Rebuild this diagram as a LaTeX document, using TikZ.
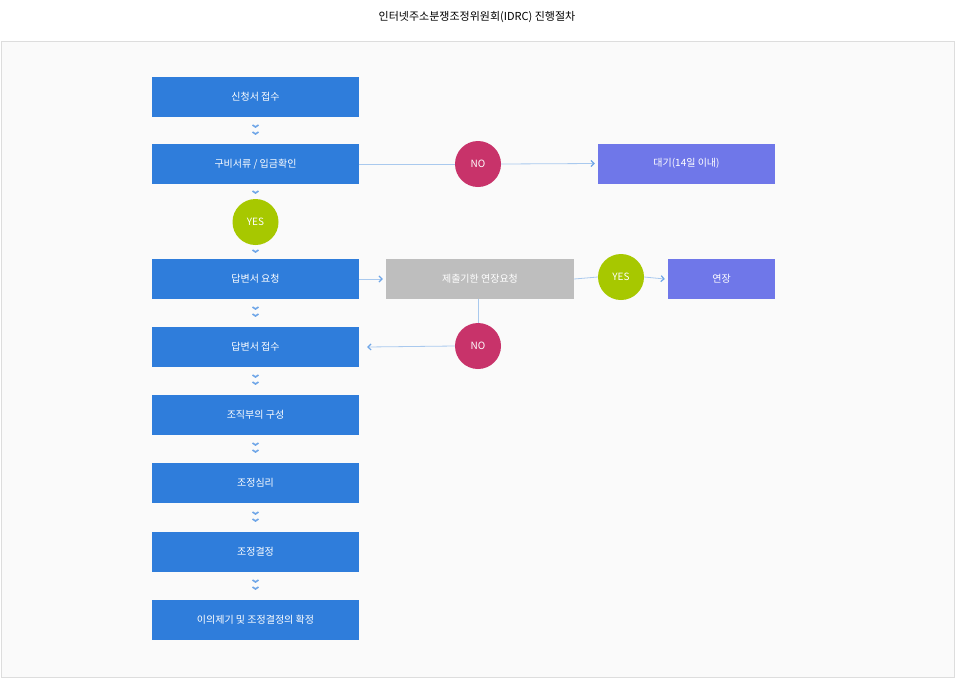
\documentclass[tikz,border=0pt]{standalone}
\usepackage{fontspec}
\setmainfont{Noto Sans CJK KR}
\usetikzlibrary{arrows.meta,positioning}
\definecolor{stepblue}{HTML}{2F7DDB}
\definecolor{waitpurple}{HTML}{6F77E9}
\definecolor{grayfill}{HTML}{BEBEBE}
\definecolor{nored}{HTML}{C8336A}
\definecolor{yesgreen}{HTML}{A7C800}
\definecolor{linkblue}{HTML}{A9C9EE}
\definecolor{chevblue}{HTML}{6FA6E8}
\tikzset{
  stepbox/.style={fill=stepblue, text=white, minimum width=207pt, minimum height=40pt, inner sep=0pt, font=\fontsize{10}{12}\selectfont},
  sidebox/.style={fill=waitpurple, text=white, minimum width=177pt, minimum height=40pt, inner sep=0pt, font=\fontsize{10}{12}\selectfont},
  graybox/.style={fill=grayfill, text=white, minimum width=188pt, minimum height=40pt, inner sep=0pt, font=\fontsize{10}{12}\selectfont},
  nodisc/.style={circle, fill=nored, text=white, minimum size=46pt, inner sep=0pt, font=\fontsize{10}{12}\selectfont},
  yesdisc/.style={circle, fill=yesgreen, text=white, minimum size=46pt, inner sep=0pt, font=\fontsize{10}{12}\selectfont},
  link/.style={draw=linkblue, line width=0.8pt},
  linkarrow/.style={link, -{Straight Barb[length=3pt,width=6pt,line width=1.2pt,color=chevblue]}},
  chev/.style={draw=chevblue, line width=1.6pt}
}
\newcommand{\chevron}[1]{\draw[chev] ($(#1)+(-3,-2)$) -- (#1) -- ($(#1)+(3,-2)$);}
\usetikzlibrary{calc}
\begin{document}
\begin{tikzpicture}[x=1pt,y=-1pt]
  \useasboundingbox (0,0) rectangle (955,678);
  \fill[white] (0,0) rectangle (955,678);
  \draw[fill={rgb,255:red,250;green,250;blue,250}, draw={rgb,255:red,221;green,221;blue,221}] (1,41) rectangle (954,677);
  \node (title) at (477,17) {\fontsize{11}{13}\selectfont 인터넷주소분쟁조정위원회(IDRC) 진행절차};
  % main column
  \node[stepbox] (apply) at (255.5,97) {신청서 접수};
  \node[stepbox] (check) at (255.5,164) {구비서류 / 입금확인};
  \node[yesdisc] (yes1) at (255.5,222) {YES};
  \node[stepbox] (request) at (255.5,279) {답변서 요청};
  \node[stepbox] (receive) at (255.5,347) {답변서 접수};
  \node[stepbox] (panel) at (255.5,415) {조직부의 구성};
  \node[stepbox] (hearing) at (255.5,483) {조정심리};
  \node[stepbox] (decision) at (255.5,552) {조정결정};
  \node[stepbox] (final) at (255.5,620) {이의제기 및 조정결정의 확정};
  % side branch
  \node[nodisc] (no1) at (478,164) {NO};
  \node[sidebox] (wait) at (686.5,163.5) {대기(14일 이내)};
  \node[graybox] (extend) at (480,279) {제출기한 연장요청};
  \node[yesdisc] (yes2) at (621,277) {YES};
  \node[sidebox, minimum width=107pt] (extended) at (721.5,279) {연장};
  \node[nodisc] (no2) at (478,346) {NO};
  % connectors
  \draw[link] (check.east) -- (no1.west);
  \draw[linkarrow] (no1.east) -- ($(wait.west)+(-3,0)$);
  \draw[linkarrow] (request.east) -- ($(extend.west)+(-3,0)$);
  \draw[link] (extend.east) -- (yes2.west);
  \draw[linkarrow] (yes2.east) -- ($(extended.west)+(-3,0)$);
  \draw[link] (extend.south -| no2) -- (no2.north);
  \draw[linkarrow] (no2.west) -- ($(receive.east)+(8,0)$);
  % chevrons
  \foreach \y in {127,134, 331-136+127, 323,330, 391-64+0, 375,382, 443,450, 512,519, 580,587} {}
  \foreach \y in {127,134,309,316,377,384,445,452,514,521,582,589} {
    \coordinate (c) at (255.5,\y);
    \chevron{c}
  }
  \coordinate (c) at (255.5,193); \chevron{c}
  \coordinate (c) at (255.5,252); \chevron{c}
\end{tikzpicture}
\end{document}
